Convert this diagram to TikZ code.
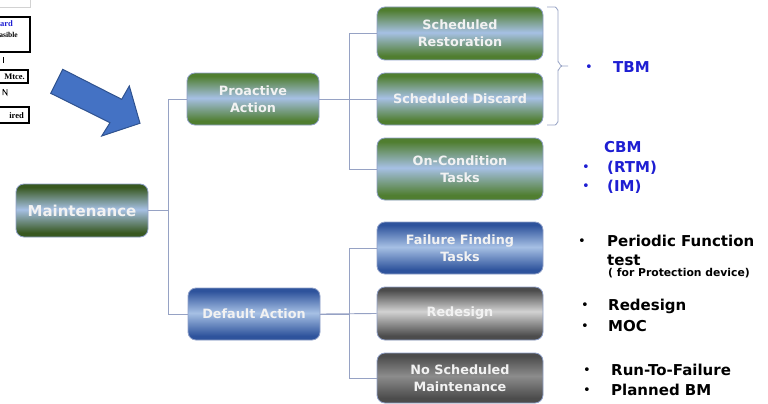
\documentclass[tikz,border=0pt]{standalone}
\usepackage{fontspec}
\setmainfont{DejaVu Sans}
\newfontfamily\fragfont{Liberation Serif}
\definecolor{gdark}{RGB}{80,126,48}
\definecolor{gmaint}{RGB}{56,88,32}
\definecolor{lblue}{RGB}{166,192,228}
\definecolor{bdark}{RGB}{46,83,156}
\definecolor{graydark}{RGB}{76,76,76}
\definecolor{graylight}{RGB}{210,210,210}
\definecolor{graymid}{RGB}{140,140,140}
\definecolor{boxborder}{RGB}{143,160,200}
\definecolor{connc}{RGB}{150,162,196}
\definecolor{txtblue}{RGB}{30,30,210}
\definecolor{arrowfill}{RGB}{68,114,196}
\definecolor{arrowedge}{RGB}{47,82,143}
\definecolor{textwhite}{RGB}{242,242,242}
\pgfdeclareverticalshading{greensh}{100bp}{color(0bp)=(gdark); color(29bp)=(gdark); color(51bp)=(lblue); color(72bp)=(gdark); color(100bp)=(gdark)}
\pgfdeclareverticalshading{maintsh}{100bp}{color(0bp)=(gmaint); color(29bp)=(gmaint); color(51bp)=(lblue); color(72bp)=(gmaint); color(100bp)=(gmaint)}
\pgfdeclareverticalshading{bluesh}{100bp}{color(0bp)=(bdark); color(29bp)=(bdark); color(51bp)=(lblue); color(72bp)=(bdark); color(100bp)=(bdark)}
\pgfdeclareverticalshading{graysh}{100bp}{color(0bp)=(graydark); color(29bp)=(graydark); color(52bp)=(graylight); color(72bp)=(graydark); color(100bp)=(graydark)}
\pgfdeclareverticalshading{dgraysh}{100bp}{color(0bp)=(graydark); color(30bp)=(graydark); color(52bp)=(graymid); color(72bp)=(graydark); color(100bp)=(graydark)}
\begin{document}
\begin{tikzpicture}[x=1pt,y=-1pt,
  box/.style={rounded corners=8pt, draw=boxborder, line width=0.8pt, inner sep=0pt,
    align=center, text=textwhite, minimum width=166pt, minimum height=53pt,
    font=\fontsize{12.8}{17}\selectfont\bfseries},
  greenbox/.style={box, shading=greensh},
  maintbox/.style={box, shading=maintsh},
  bluebox/.style={box, shading=bluesh},
  graybox/.style={box, shading=graysh},
  darkgraybox/.style={box, shading=dgraysh},
  conn/.style={draw=connc, line width=0.9pt},
  bigtxt/.style={anchor=base west, inner sep=0pt, font=\fontsize{15}{18}\selectfont\bfseries},
  bluetxt/.style={bigtxt, text=txtblue},
  bul/.style={inner sep=0pt, font=\fontsize{13}{13}\selectfont},
  frag/.style={anchor=base east, inner sep=0pt, font=\fragfont\fontsize{8.5}{9}\selectfont\bfseries},
  fragbox/.style={draw=black, line width=1.3pt}
]
\useasboundingbox (0,0) rectangle (768,404);
\clip (0,0) rectangle (768,404);

% cropped fragment, top left
\draw[gray!35, line width=0.8pt] (-2,7) -- (30,7) -- (30,-2);
\draw[fragbox] (-5,17) rectangle (30,52);
\node[frag, text=txtblue] (f1) at (13,27) {ard};
\node[frag, font=\fragfont\fontsize{7.5}{8}\selectfont\bfseries] (f2) at (18,37.5) {asible};
\draw[line width=0.8pt] (3,57) -- (3,63);
\draw[fragbox] (-5,70) rectangle (28,83);
\node[frag] (f3) at (25,79.5) {Mtce.};
\draw[line width=0.7pt] (3,89) -- (3,95) (3,89) -- (7,95) -- (7,89);
\draw[fragbox] (-5,107) rectangle (29,123);
\node[frag] (f4) at (24,118.5) {ired};

% big arrow
\draw[fill=arrowfill, draw=arrowedge, line width=1pt, line join=miter]
  (62.7,69.3) -- (121.7,99.3) -- (129.3,86) -- (140,123.3) -- (101.7,136)
  -- (110,122.7) -- (50.7,93.3) -- cycle;

% boxes
\node[maintbox, minimum width=132pt, font=\fontsize{15}{18}\selectfont\bfseries] (maint) at (82,210.5) {Maintenance};
\node[greenbox, minimum width=132pt, minimum height=52pt] (pro) at (253,99) {Proactive\\Action};
\node[bluebox, minimum width=132pt, minimum height=52pt] (def) at (254,314) {Default Action};

\node[greenbox] (sr) at (460,33.5) {Scheduled\\Restoration};
\node[greenbox, minimum height=52pt] (sd) at (460,99) {Scheduled Discard};
\node[greenbox, minimum height=62pt] (oc) at (460,169) {On-Condition\\Tasks};
\node[bluebox, minimum height=52pt] (ff) at (460,248) {Failure Finding\\Tasks};
\node[graybox] (rd) at (460,313.5) {Redesign};
\node[darkgraybox, minimum height=50pt] (ns) at (460,378) {No Scheduled\\Maintenance};

% connectors
\draw[conn] (maint.east) -- ++(20,0) |- (pro.west);
\draw[conn] (maint.east) -- ++(20,0) |- (def.west);
\draw[conn] (pro.east) -- ++(30,0) |- (sr.west);
\draw[conn] (pro.east) -- (sd.west);
\draw[conn] (pro.east) -- ++(30,0) |- (oc.west);
\draw[conn] (def.east) -- ++(29,0) |- (ff.west);
\draw[conn] (def.east) -- (rd.west);
\draw[conn] (def.east) -- ++(29,0) |- (ns.west);

% brace
\draw[conn, line width=0.8pt, line join=round]
  (547,7) -- (555,7) to[out=0,in=-90] (558,10) -- (558,62)
  to[out=90,in=180] (562,66) -- (568,66);
\draw[conn, line width=0.8pt, line join=round]
  (562,66) to[out=180,in=-90] (558,70) -- (558,122)
  to[out=90,in=0] (555,125) -- (547,125);

% blue annotations
\node[bul, text=txtblue] (b1) at (589,68) {•};
\node[bluetxt] (tbm) at (613,72.5) {TBM};
\node[bluetxt] (cbm) at (604,152.5) {CBM};
\node[bul, text=txtblue] (b2) at (586,168) {•};
\node[bluetxt] (rtm) at (607,172.5) {(RTM)};
\node[bul, text=txtblue] (b3) at (586,187) {•};
\node[bluetxt] (im) at (607,191.5) {(IM)};

% black annotations
\node[bul] (b4) at (582,242) {•};
\node[bigtxt] (pf) at (607,246.5) {Periodic Function};
\node[bigtxt] (te) at (607,265.5) {test};
\node[anchor=base west, inner sep=0pt, font=\fontsize{10.8}{12}\selectfont\bfseries] (pd) at (608,276.8) {( for Protection device)};
\node[bul] (b5) at (585,306) {•};
\node[bigtxt] (re) at (608,310.5) {Redesign};
\node[bul] (b6) at (585,327) {•};
\node[bigtxt] (moc) at (608,331.5) {MOC};
\node[bul] (b7) at (587,371) {•};
\node[bigtxt] (rtf) at (611,375.5) {Run-To-Failure};
\node[bul] (b8) at (587,391) {•};
\node[bigtxt] (pbm) at (611,395.5) {Planned BM};
\end{tikzpicture}
\end{document}
